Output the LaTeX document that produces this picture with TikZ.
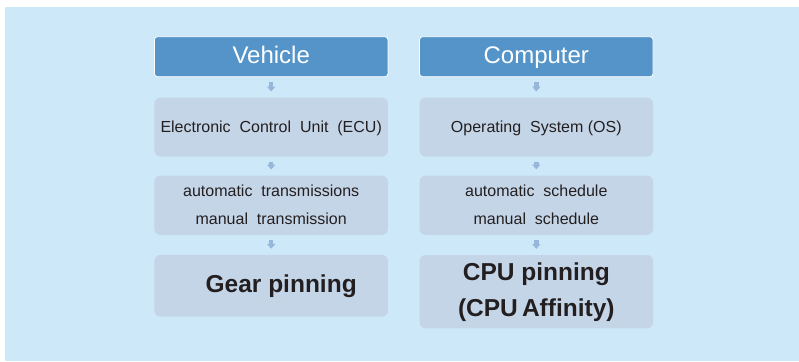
\documentclass[tikz,border=0pt]{standalone}
\usepackage{fontspec}
\setmainfont{Liberation Sans}
\usetikzlibrary{arrows.meta}
\definecolor{bgblue}{RGB}{205,232,248}
\definecolor{headblue}{RGB}{85,148,200}
\definecolor{boxgrey}{RGB}{197,213,232}
\definecolor{arrblue}{RGB}{150,182,218}
\definecolor{txt}{RGB}{35,31,32}
\tikzset{
  headbox/.style={draw=white, line width=0.8pt, fill=headblue, rounded corners=3pt,
    minimum width=233.5pt, minimum height=40pt, inner sep=0pt, text=white,
    text height=18pt, text depth=4.8pt,
    font=\fontsize{24}{28}\selectfont},
  greybox/.style={fill=boxgrey, rounded corners=6pt, minimum width=233.5pt,
    inner sep=0pt, text=txt, align=center, text height=13.6pt, text depth=2.6pt,
    font=\fontsize{16}{28}\selectfont},
  twoline/.style={text height=41pt, text depth=2.2pt},
  bigbox/.style={greybox, text height=18pt, text depth=4.5pt,
    font=\fontsize{24.5}{36.7}\selectfont\bfseries},
  flowarrow/.style={draw=arrblue, line width=4.5pt,
    -{Triangle[width=8pt,length=4.8pt]}, shorten <=5pt, shorten >=6pt}
}
\begin{document}
\begin{tikzpicture}[x=1pt,y=-1pt]
\fill[bgblue] (5,7) rectangle (799,361);
\useasboundingbox (0,0) rectangle (799,361);
% left column
\node[headbox] (v0) at (271.2,56.7) {Vehicle};
\node[greybox, minimum height=58.8pt] (v1) at (271.2,127.1) {Electronic\ \ Control\ \ Unit\ \ (ECU)};
\node[greybox, twoline, minimum height=59.3pt] (v2) at (271.2,205.3) {automatic\ \ transmissions\\manual\ \ transmission};
\node[bigbox, minimum height=61.7pt] (v3) at (271.2,285.8) {\hspace*{20pt}Gear pinning};
% right column
\node[headbox] (c0) at (536.3,56.7) {Computer};
\node[greybox, minimum height=58.8pt] (c1) at (536.3,127.1) {Operating\ \ System\ (OS)};
\node[greybox, twoline, minimum height=59.3pt] (c2) at (536.3,205.3) {automatic\ \ schedule\\manual\ \ schedule};
\node[bigbox, minimum height=73.3pt, text height=54.7pt] (c3) at (536.3,291.7) {CPU pinning\\(CPU\,Affinity)};
% arrows
\draw[flowarrow] (v0) -- (v1);
\draw[flowarrow] (v1) -- (v2);
\draw[flowarrow] (v2) -- (v3);
\draw[flowarrow] (c0) -- (c1);
\draw[flowarrow] (c1) -- (c2);
\draw[flowarrow] (c2) -- (c3);
\end{tikzpicture}
\end{document}
